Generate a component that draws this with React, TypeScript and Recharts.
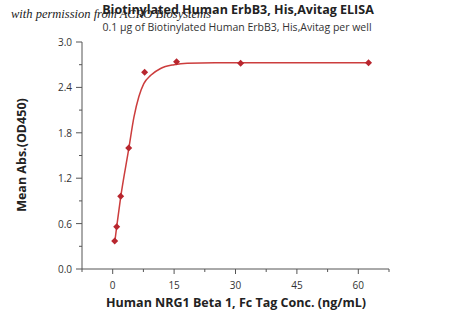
import { ComposedChart, Line, Scatter, XAxis, YAxis } from 'recharts';

const concentrations = [0.49, 0.98, 1.95, 3.9, 7.8, 15.6, 31.25, 62.5];
const meanAbs = [0.37, 0.56, 0.96, 1.6, 2.6, 2.74, 2.72, 2.725];

// fitted curve
const fitX = [0.49, 0.98, 1.95, 3.9, 5.2, 6.4, 7.6, 9.3, 11.7, 15, 18.2, 25, 40, 62.5];
const fitY = [0.35, 0.56, 0.95, 1.58, 2.01, 2.28, 2.45, 2.56, 2.65, 2.7, 2.72, 2.725, 2.725, 2.725];

const xTicks = [-7.5, 0, 7.5, 15, 22.5, 30, 37.5, 45, 52.5, 60, 67.5];
const yTicks = [0, 0.3, 0.6, 0.9, 1.2, 1.5, 1.8, 2.1, 2.4, 2.7, 3.0];

const points = concentrations.map((c, i) => ({ x: c, y: meanAbs[i] }));
const curve = fitX.map((c, i) => ({ x: c, y: fitY[i] }));

const axisColor = '#555';
const font = '"Open Sans", "Liberation Sans", sans-serif';

function XTick(props: any) {
  const { x, y, payload } = props;
  const v = payload.value;
  const major = Math.abs(v % 15) < 0.01;
  return (
    <g>
      <line x1={x} x2={x} y1={y} y2={y + (major ? 5 : 3)} stroke={axisColor} />
      {major && v >= 0 && v <= 60 && (
        <text x={x} y={y + 20} textAnchor="middle" fontSize={10} fill="#333" fontFamily={font}>
          {v}
        </text>
      )}
    </g>
  );
}

function YTick(props: any) {
  const { x, y, payload } = props;
  const v = payload.value;
  const major = Math.round(v * 10) % 6 === 0;
  return (
    <g>
      <line x1={x - (major ? 6 : 3)} x2={x} y1={y} y2={y} stroke={axisColor} />
      {major && (
        <text x={x - 10} y={y + 4} textAnchor="end" fontSize={10} fill="#333" fontFamily={font}>
          {v.toFixed(1)}
        </text>
      )}
    </g>
  );
}

function Diamond(props: any) {
  const { cx, cy } = props;
  const r = 3.5;
  return (
    <polygon
      points={`${cx},${cy - r} ${cx + r},${cy} ${cx},${cy + r} ${cx - r},${cy}`}
      fill="#b8262e"
    />
  );
}

export default function App() {
  return (
    <div style={{ position: 'absolute', left: 0, top: 0, width: 450, height: 316, background: '#fff', fontFamily: font }}>
      <div style={{ position: 'absolute', left: 0, width: 476, top: 1, textAlign: 'center', fontSize: 12.5, fontWeight: 700, color: '#222' }}>
        Biotinylated Human ErbB3, His,Avitag ELISA
      </div>
      <div style={{ position: 'absolute', left: 0, width: 474, top: 20, textAlign: 'center', fontSize: 10.5, color: '#333' }}>
        0.1 µg of Biotinylated Human ErbB3, His,Avitag per well
      </div>
      <div style={{ position: 'absolute', left: 11, top: 7, fontSize: 12.5, fontStyle: 'italic', color: '#222', fontFamily: '"Liberation Serif", "DejaVu Serif", serif', whiteSpace: 'nowrap' }}>
        with permission from ACRO Biosystems
      </div>
      <div style={{ position: 'absolute', left: 0, width: 472, top: 294, textAlign: 'center', fontSize: 12.5, fontWeight: 700, color: '#222' }}>
        Human NRG1 Beta 1, Fc Tag Conc. (ng/mL)
      </div>
      <div
        style={{
          position: 'absolute', left: 21, top: 155, transform: 'translate(-50%, -50%) rotate(-90deg)',
          whiteSpace: 'nowrap', fontSize: 12.5, fontWeight: 700, color: '#222',
        }}
      >
        Mean Abs.(OD450)
      </div>
      <ComposedChart
        width={450}
        height={316}
        margin={{ top: 42, right: 61, left: 0, bottom: 0 }}
        style={{ position: 'absolute', left: 0, top: 0 }}
      >
        <XAxis
          dataKey="x"
          type="number"
          domain={[-7.5, 67.5]}
          ticks={xTicks}
          interval={0}
          tickSize={0}
          tickMargin={0}
          tickLine={false}
          tick={<XTick />}
          height={47}
          stroke={axisColor}
          allowDataOverflow
        />
        <YAxis
          type="number"
          domain={[0, 3]}
          ticks={yTicks}
          interval={0}
          tickSize={0}
          tickMargin={0}
          tickLine={false}
          tick={<YTick />}
          width={82}
          stroke={axisColor}
        />
        <Line
          data={curve}
          dataKey="y"
          type="monotone"
          stroke="#cc3d3d"
          strokeWidth={1.5}
          dot={false}
          isAnimationActive={false}
        />
        <Scatter data={points} dataKey="y" shape={<Diamond />} isAnimationActive={false} />
      </ComposedChart>
    </div>
  );
}
